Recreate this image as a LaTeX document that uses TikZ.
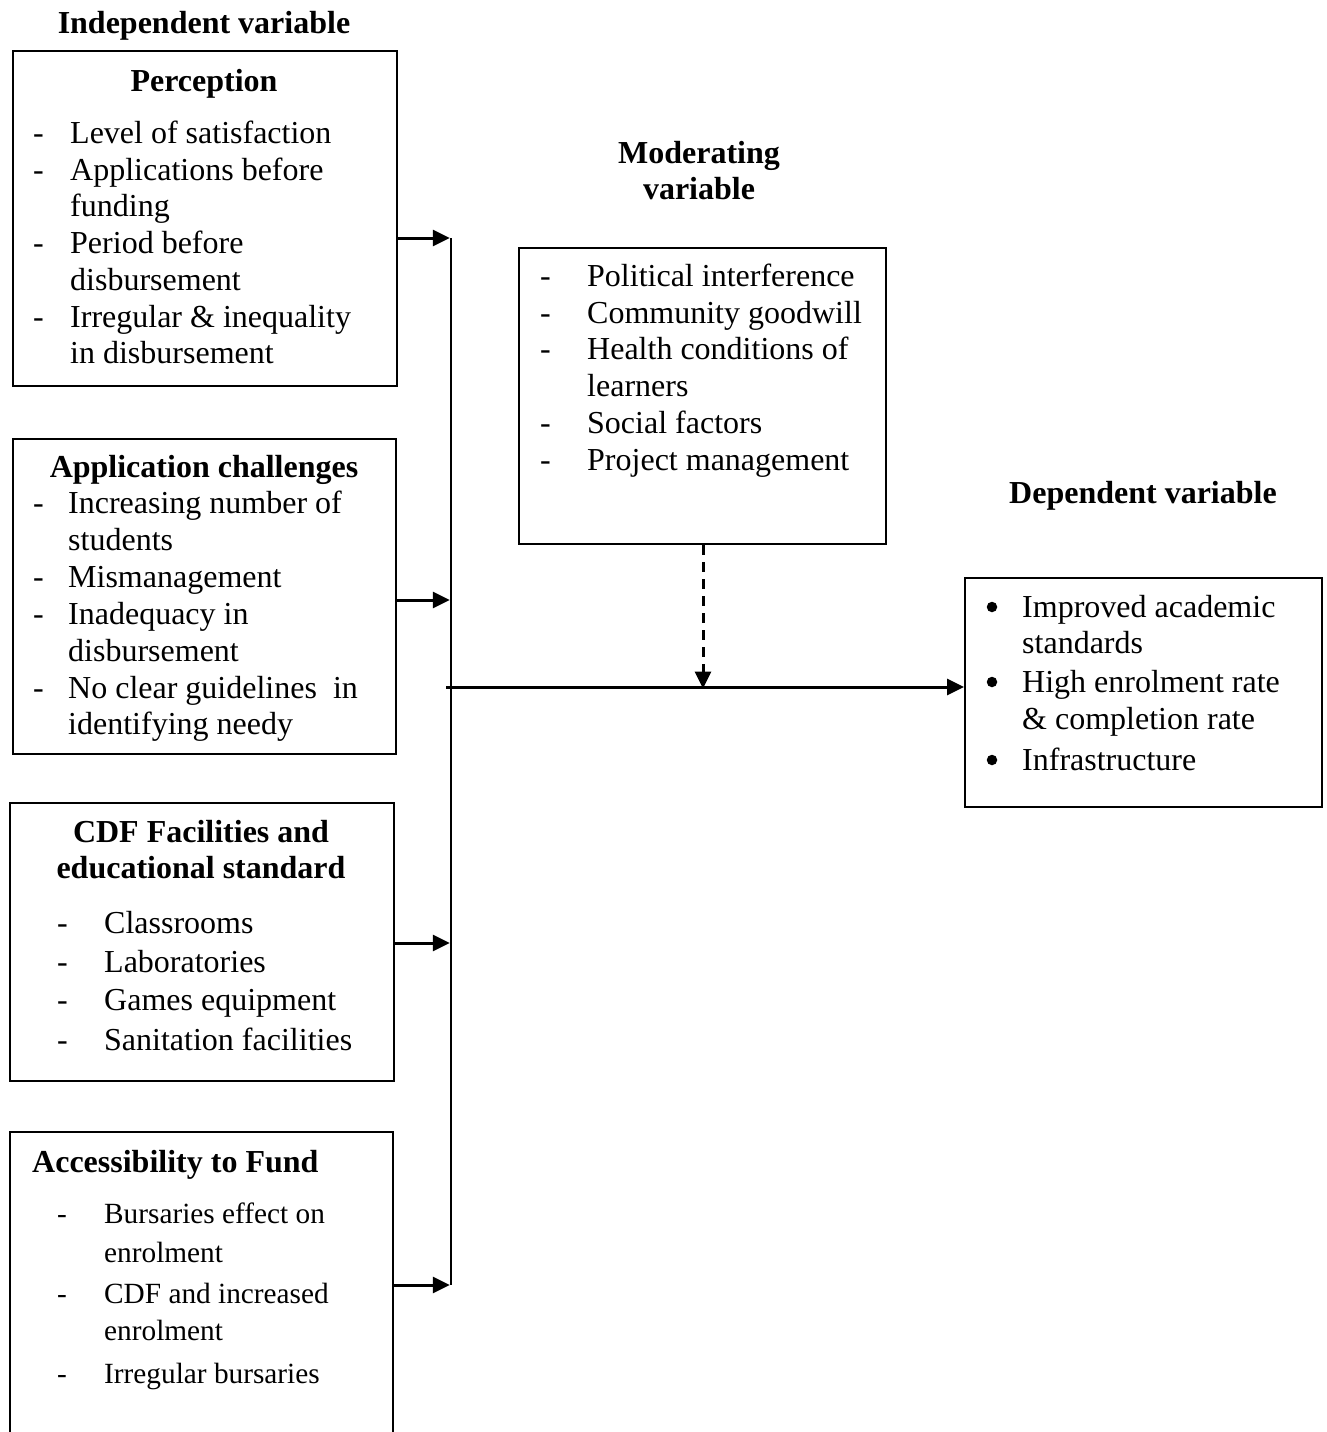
\documentclass[tikz,border=0pt]{standalone}
\usepackage{fontspec}
\setmainfont{Liberation Serif}
\usetikzlibrary{arrows.meta}
\begin{document}
\begin{tikzpicture}[x=1pt,y=-1pt,
  box/.style={draw, line width=2pt, rectangle, inner sep=0pt, anchor=north west},
  txt/.style={anchor=base west, inner sep=0pt, font=\fontsize{32}{36}\selectfont},
  stxt/.style={anchor=base west, inner sep=0pt, font=\fontsize{29.3}{34}\selectfont},
  ttl/.style={anchor=base, inner sep=0pt, font=\fontsize{32}{36}\selectfont\bfseries},
  lttl/.style={anchor=base west, inner sep=0pt, font=\fontsize{32}{36}\selectfont\bfseries},
  bul/.style={circle, fill, inner sep=0pt, minimum size=10.5pt},
  arr/.style={line width=3pt, -{Triangle[length=17pt,width=16pt]}},
  darr/.style={line width=3pt, dash pattern=on 10pt off 7pt, -{Triangle[length=17pt,width=16pt]}},
  vln/.style={line width=2.5pt}]
\useasboundingbox (0,0) rectangle (1326,1432);

% ---------- boxes ----------
\node[box, minimum width=384pt, minimum height=335pt] (perc) at (12,50) {};
\node[box, minimum width=383pt, minimum height=315pt] (appl) at (12,438) {};
\node[box, minimum width=384pt, minimum height=278pt] (cdf) at (9,802) {};
\node[box, minimum width=383pt, minimum height=330pt] (acc) at (9,1131) {};
\node[box, minimum width=367pt, minimum height=296pt] (mod) at (518,247) {};
\node[box, minimum width=357pt, minimum height=229pt] (dep) at (964,577) {};

% ---------- headings ----------
\node[ttl] (ivt) at (204,33) {Independent variable};
\node[ttl] (mvt1) at (699,163) {Moderating};
\node[ttl] (mvt2) at (699,199) {variable};
\node[ttl] (dvt) at (1143,503) {Dependent variable};

% ---------- Perception ----------
\node[ttl] (pt) at (204,91) {Perception};
\foreach \y [count=\i] in {143,180,253,327}
  \node[txt] (pd\i) at (33,\y) {-};
\node[txt] (p1) at (70,143) {Level of satisfaction};
\node[txt] (p2) at (70,180) {Applications before};
\node[txt] (p3) at (70,216) {funding};
\node[txt] (p4) at (70,253) {Period before};
\node[txt] (p5) at (70,290) {disbursement};
\node[txt] (p6) at (70,327) {Irregular \& inequality};
\node[txt] (p7) at (70,363) {in disbursement};

% ---------- Application challenges ----------
\node[ttl] (at) at (204,477) {Application challenges};
\foreach \y [count=\i] in {513,587,624,698}
  \node[txt] (ad\i) at (33,\y) {-};
\node[txt] (a1) at (68,513) {Increasing number of};
\node[txt] (a2) at (68,550) {students};
\node[txt] (a3) at (68,587) {Mismanagement};
\node[txt] (a4) at (68,624) {Inadequacy in};
\node[txt] (a5) at (68,661) {disbursement};
\node[txt] (a6) at (68,698) {No clear guidelines~ in};
\node[txt] (a7) at (68,734) {identifying needy};

% ---------- CDF facilities ----------
\node[ttl] (ct1) at (201,842) {CDF Facilities and};
\node[ttl] (ct2) at (201,878) {educational standard};
\foreach \y [count=\i] in {933,972,1010,1050}
  \node[txt] (cd\i) at (57,\y) {-};
\node[txt] (c1) at (104,933) {Classrooms};
\node[txt] (c2) at (104,972) {Laboratories};
\node[txt] (c3) at (104,1010) {Games equipment};
\node[txt] (c4) at (104,1050) {Sanitation facilities};

% ---------- Accessibility ----------
\node[lttl] (act) at (32,1172) {Accessibility to Fund};
\foreach \y [count=\i] in {1223,1303,1383}
  \node[stxt] (xd\i) at (57,\y) {-};
\node[stxt] (x1) at (104,1223) {Bursaries effect on};
\node[stxt] (x2) at (104,1262) {enrolment};
\node[stxt] (x3) at (104,1303) {CDF and increased};
\node[stxt] (x4) at (104,1340) {enrolment};
\node[stxt] (x5) at (104,1383) {Irregular bursaries};

% ---------- Moderating ----------
\foreach \y [count=\i] in {286,323,359,433,470}
  \node[txt] (md\i) at (540,\y) {-};
\node[txt] (m1) at (587,286) {Political interference};
\node[txt] (m2) at (587,323) {Community goodwill};
\node[txt] (m3) at (587,359) {Health conditions of};
\node[txt] (m4) at (587,396) {learners};
\node[txt] (m5) at (587,433) {Social factors};
\node[txt] (m6) at (587,470) {Project management};

% ---------- Dependent ----------
\foreach \y [count=\i] in {617,692,770}
  \node[bul] (db\i) at (992,\y-10) {};
\node[txt] (d1) at (1022,617) {Improved academic};
\node[txt] (d2) at (1022,653) {standards};
\node[txt] (d3) at (1022,692) {High enrolment rate};
\node[txt] (d4) at (1022,729) {\& completion rate};
\node[txt] (d5) at (1022,770) {Infrastructure};

% ---------- connectors ----------
\coordinate (j1) at (451,238);
\coordinate (j2) at (451,600);
\coordinate (j3) at (451,943);
\coordinate (j4) at (451,1285);
\coordinate (hs) at (446,687);
\coordinate (mj) at (703,687);

\draw[vln] (j1) -- (j4);
\draw[arr] (perc.east |- j1) -- ([xshift=-1.2pt]j1);
\draw[arr] (appl.east |- j2) -- ([xshift=-1.2pt]j2);
\draw[arr] (cdf.east |- j3) -- ([xshift=-1.2pt]j3);
\draw[arr] (acc.east |- j4) -- ([xshift=-1.2pt]j4);
\draw[arr] (hs) -- (dep.west |- hs);
\draw[darr] (mod.south -| mj) -- ([yshift=-1.5pt]mj);
\end{tikzpicture}
\end{document}
